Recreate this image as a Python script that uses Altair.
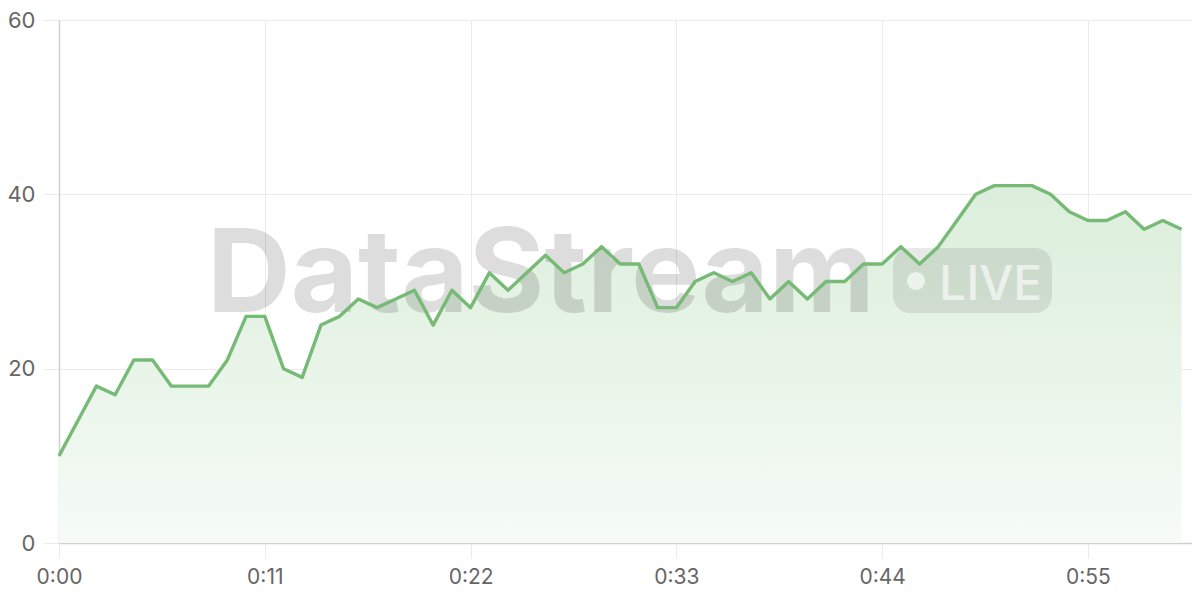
import altair as alt
import pandas as pd

seconds = list(range(61))
values = [10, 14, 18, 17, 21, 21, 18, 18, 18, 21, 26, 26, 20, 19, 25, 26, 28, 27, 28, 29,
          25, 29, 27, 31, 29, 31, 33, 31, 32, 34, 32, 32, 27, 27, 30, 31, 30, 31, 28, 30,
          28, 30, 30, 32, 32, 34, 32, 34, 37, 40, 41, 41, 41, 40, 38, 37, 37, 38, 36, 37, 36]
x_ticks = [0, 11, 22, 33, 44, 55]
y_ticks = [0, 20, 40, 60]

df = pd.DataFrame({"t": seconds, "v": values})

FONT = "Inter"
GREEN = "#76ba76"

x_enc = alt.X("t:Q", scale=alt.Scale(domain=[0, 60.56], nice=False, zero=False),
              axis=alt.Axis(values=x_ticks, title=None,
                            labelExpr="floor(datum.value/60) + ':' + (datum.value % 60 < 10 ? '0' : '') + (datum.value % 60)",
                            grid=True, gridColor="#ebebeb", tickColor="#ebebeb", tickSize=15,
                            domainColor="#d0d0d0", domainWidth=1.5, labelFontSize=21, labelColor="#666666",
                            labelFont=FONT, labelPadding=8, labelFlush=False))
y_enc = alt.Y("v:Q", scale=alt.Scale(domain=[0, 60], nice=False),
              axis=alt.Axis(values=y_ticks, title=None, grid=True, gridColor="#ebebeb",
                            tickColor="#ebebeb", tickSize=16, domainColor="#d0d0d0", domainWidth=1.5,
                            labelFontSize=22, labelColor="#666666", labelFont=FONT, labelPadding=8))

base = alt.Chart(df)

area = base.mark_area(
    color=alt.Gradient(gradient="linear",
                       stops=[alt.GradientStop(color="#f6fbf6", offset=0),
                              alt.GradientStop(color="#dbeedb", offset=1)],
                       x1=1, x2=1, y1=1, y2=0)
).encode(x=x_enc, y=y_enc)

line = base.mark_line(color=GREEN, strokeWidth=3.4, strokeJoin="round").encode(x="t:Q", y="v:Q")

wm = alt.Chart(pd.DataFrame({"s": ["DataStream"]})).mark_text(
    font=FONT, fontWeight="bold", fontSize=116, align="left", baseline="alphabetic",
    color="#000000", opacity=0.13
).encode(text="s:N", x=alt.value(148), y=alt.value(292))

badge = alt.Chart(pd.DataFrame({"s": ["b"]})).mark_rect(
    cornerRadius=17, color="#000000", opacity=0.09
).encode(x=alt.value(834), x2=alt.value(993), y=alt.value(228), y2=alt.value(293))

dot = alt.Chart(pd.DataFrame({"s": ["d"]})).mark_circle(
    color="#ffffff", opacity=0.6, size=330
).encode(x=alt.value(857), y=alt.value(261))

live = alt.Chart(pd.DataFrame({"s": ["LIVE"]})).mark_text(
    font=FONT, fontWeight=500, fontSize=48, align="left", baseline="alphabetic",
    color="#ffffff", opacity=0.6
).encode(text="s:N", x=alt.value(880), y=alt.value(280))

chart = alt.layer(area, wm, badge, dot, live, line).properties(
    width=1133, height=523,
    autosize=alt.AutoSizeParams(type="none"),
    padding={"left": 51, "top": 12, "right": 0, "bottom": 49},
).configure_view(stroke=None).configure(background="#ffffff")

chart.save("out.html", embed_options={"renderer": "svg", "actions": False})
